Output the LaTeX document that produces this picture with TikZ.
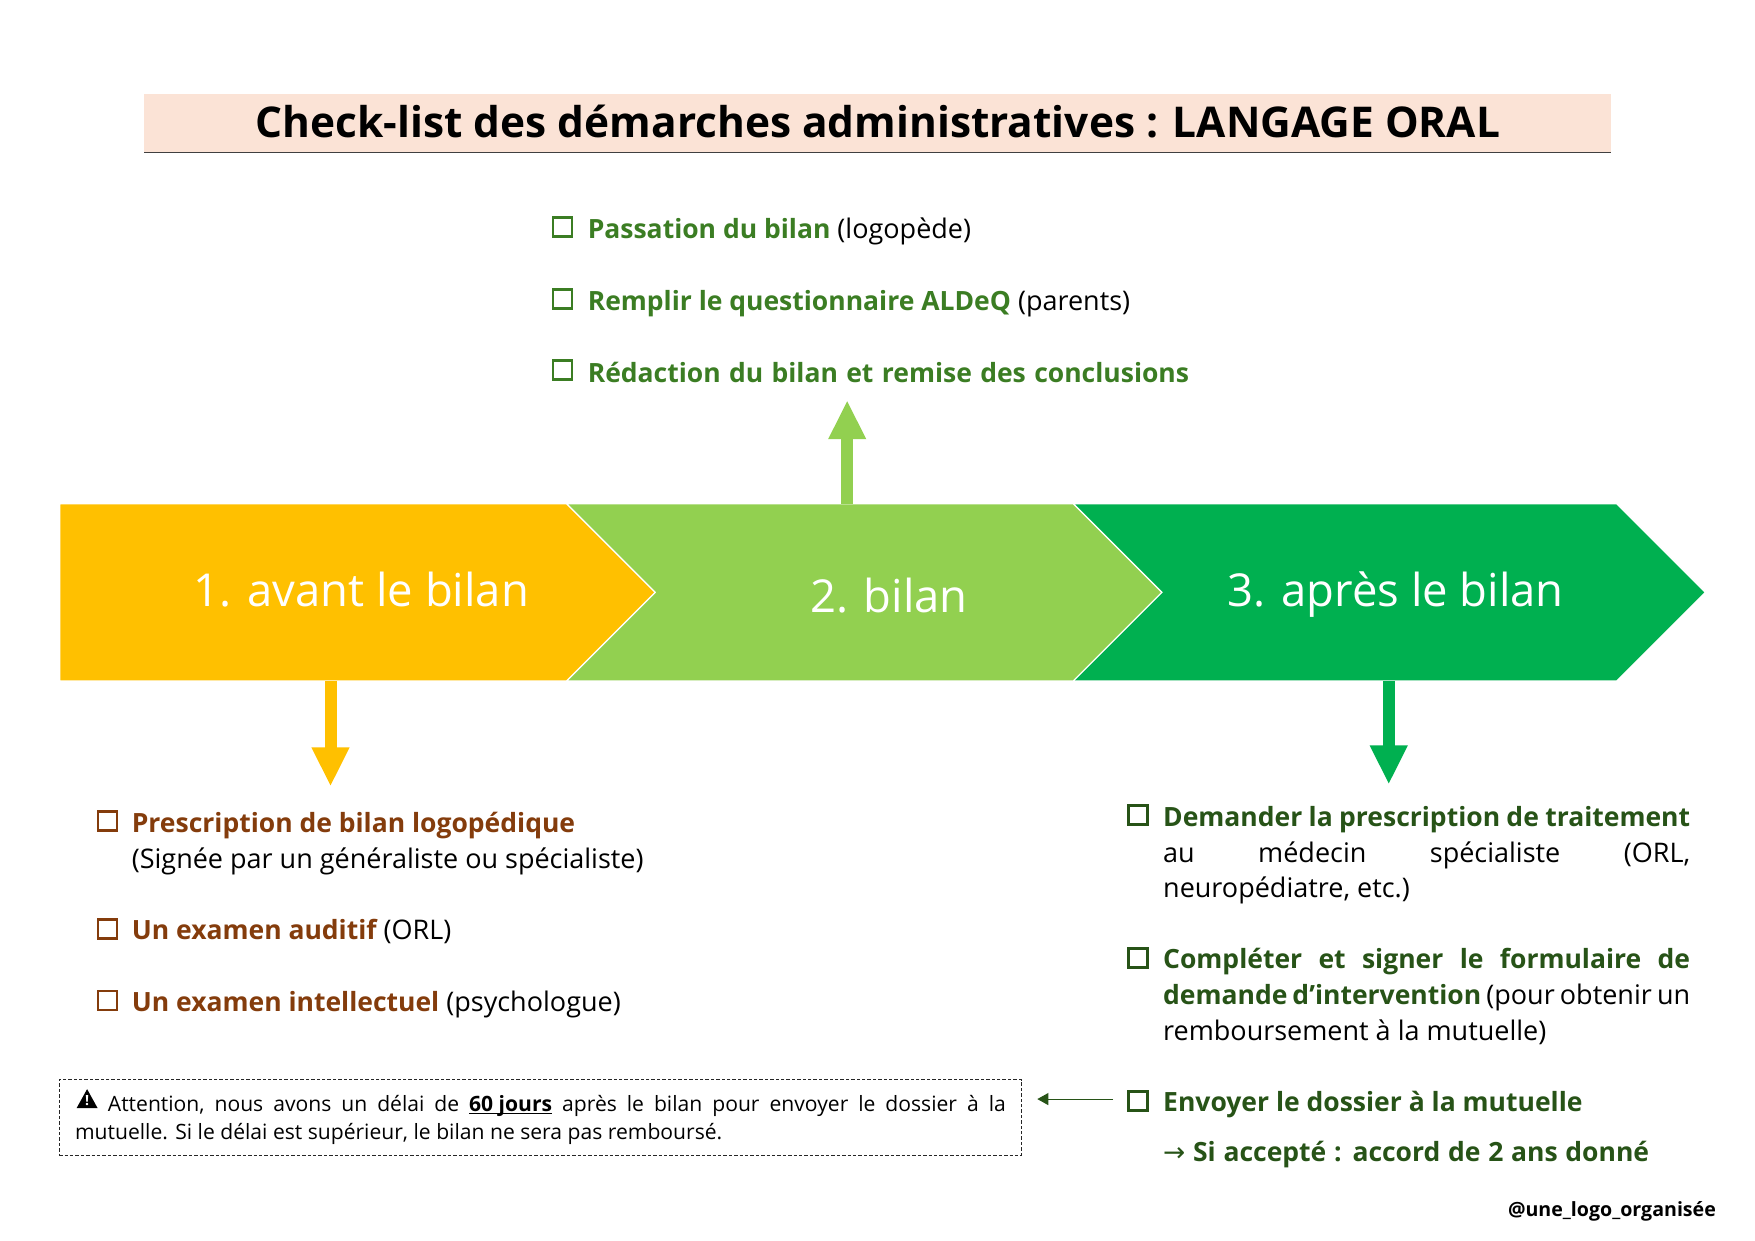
\documentclass[tikz,border=0pt]{standalone}
\usepackage{fontspec}
\setmainfont{Open Sans}
\newfontfamily\symfont{DejaVu Sans}
\usetikzlibrary{arrows.meta}
\definecolor{cyellow}{HTML}{FFC000}
\definecolor{clight}{HTML}{92D050}
\definecolor{cgreen}{HTML}{00B050}
\definecolor{ctitle}{HTML}{FBE3D6}
\definecolor{gmid}{HTML}{3B7D23}
\definecolor{gdark}{HTML}{275317}
\definecolor{cbrown}{HTML}{843C0C}
\newcommand{\bodyf}{\fontsize{13.5pt}{18pt}\selectfont}
\newcommand{\bd}{\fontsize{13.25pt}{18pt}\selectfont\bfseries}
\tikzset{
  txt/.style={anchor=base west,inner sep=0pt,font=\bodyf},
  chk/.style={draw=#1,line width=1.4pt,minimum size=9.5pt,inner sep=0pt,fill=white},
  chev/.style={fill=#1,draw=white,line width=0.6pt},
  lab/.style={anchor=base,inner sep=0pt,text=white,font=\fontsize{22.7pt}{28pt}\selectfont},
  bigarrow/.style={draw=#1,line width=6pt,-{Triangle[length=19.5pt,width=17.5pt,color=#1]}},
  warn/.style={anchor=base west,inner sep=0pt,font=\fontsize{10.55pt}{13pt}\selectfont},
}
\begin{document}
\begin{tikzpicture}[x=0.49778pt,y=-0.49778pt]
\useasboundingbox (0,0) rectangle (1762.9,1245.6);
\fill[white] (0,0) rectangle (1762.9,1245.6);
% title
\fill[ctitle] (145,94) rectangle (1618,153);
\draw[black!75,line width=0.6pt] (145,153) -- (1618,153);
\node[anchor=base,inner sep=0pt,font=\fontsize{21.2pt}{24pt}\selectfont\bfseries] (title) at (882,138) {Check-list des démarches administratives : LANGAGE ORAL};
% chevrons
\draw[chev=cgreen] (1078,506) -- (1624,506) -- (1713,595) -- (1624,684) -- (1078,684) -- (1167,595) -- cycle;
\draw[chev=clight] (569,506) -- (1078,506) -- (1167,595) -- (1078,684) -- (569,684) -- (658,595) -- cycle;
\draw[chev=cyellow] (60,506) -- (569,506) -- (658,595) -- (569,684) -- (60,684) -- cycle;
\node[lab] (l1) at (363,609) {1. avant le bilan};
\node[lab] (l2) at (893,615) {2. bilan};
\node[lab] (l3) at (1402,609) {3. après le bilan};
% arrows
\coordinate (a1s) at (332,684); \coordinate (a1e) at (332,790);
\coordinate (a2s) at (851,506); \coordinate (a2e) at (851,402);
\coordinate (a3s) at (1395,684); \coordinate (a3e) at (1395,788);
\draw[bigarrow=cyellow] (a1s) -- (a1e);
\draw[bigarrow=clight] (a2s) -- (a2e);
\draw[bigarrow=cgreen] (a3s) -- (a3e);
% middle list
\node[chk=gmid] (c1) at (565,228) {};
\node[chk=gmid] (c2) at (565,300) {};
\node[chk=gmid] (c3) at (565,372) {};
\node[txt] (t1) at (590,240) {\textcolor{gmid}{\bd Passation du bilan} (logopède)};
\node[txt] (t2) at (590,312) {\textcolor{gmid}{\bd Remplir le questionnaire ALDeQ} (parents)};
\node[txt] (t3) at (590,384) {\makebox[300.7pt][s]{\textcolor{gmid}{\bd Rédaction du bilan et remise des conclusions}}};
% left list
\node[chk=cbrown] (c4) at (108,825) {};
\node[chk=cbrown] (c5) at (108,933) {};
\node[chk=cbrown] (c6) at (108,1005) {};
\node[txt] (t4) at (132,836) {\textcolor{cbrown}{\bd Prescription de bilan logopédique}};
\node[txt] (t4b) at (132,872) {(Signée par un généraliste ou spécialiste)};
\node[txt] (t5) at (132,944) {\textcolor{cbrown}{\bd Un examen auditif} (ORL)};
\node[txt] (t6) at (132,1016) {\textcolor{cbrown}{\bd Un examen intellectuel} (psychologue)};
% right list
\node[chk=gdark] (c7) at (1143,819) {};
\node[chk=gdark] (c8) at (1143,962) {};
\node[chk=gdark] (c9) at (1143,1106) {};
\node[txt] (t7) at (1168,830) {\makebox[263.5pt][s]{\textcolor{gdark}{\bd Demander la prescription de traitement}}};
\node[txt] (t7b) at (1168,866) {\makebox[263.5pt][s]{au\hfil médecin\hfil spécialiste\hfil (ORL,}};
\node[txt] (t7c) at (1168,902) {neuropédiatre, etc.)};
\node[txt] (t8) at (1168,973) {\makebox[263.5pt][s]{\textcolor{gdark}{\bd Compléter\hfil et\hfil signer\hfil le\hfil formulaire\hfil de}}};
\node[txt] (t8b) at (1168,1009) {\makebox[263.5pt][s]{\textcolor{gdark}{\bd demande d’intervention} (pour obtenir un}};
\node[txt] (t8c) at (1168,1045) {remboursement à la mutuelle)};
\node[txt] (t9) at (1168,1116) {\textcolor{gdark}{\bd Envoyer le dossier à la mutuelle}};
\node[txt] (t9b) at (1168,1167) {\makebox[243pt][s]{\textcolor{gdark}{\bd {\symfont\mdseries →} Si accepté : accord de 2 ans donné}}};
% warning
\node[draw=black!85,dash pattern=on 1.7pt off 1pt,line width=0.45pt,minimum width=481pt,minimum height=37.8pt,anchor=north west,inner sep=0pt] (wbox) at (59,1084) {};
\fill[black] (87.5,1094) -- (98,1113) -- (77,1113) -- cycle;
\node[inner sep=0pt,text=white,font=\fontsize{7pt}{7pt}\selectfont\bfseries] (wi) at (87.5,1106) {!};
\node[warn] (w1) at (108,1116) {\makebox[449pt][s]{Attention,\hfil nous\hfil avons\hfil un\hfil délai\hfil de\hfil \textbf{\underline{\smash{60 jours}}}\hfil après\hfil le\hfil bilan\hfil pour\hfil envoyer\hfil le\hfil dossier\hfil à\hfil la}};
\node[warn] (w2) at (75,1145) {mutuelle. Si le délai est supérieur, le bilan ne sera pas remboursé.};
% small arrow
\coordinate (sm) at (1118,1104);
\coordinate (sme) at (1042,1104);
\draw[gdark,line width=0.5pt,-{Triangle[length=5.5pt,width=6pt]}] (sm) -- (sme);
\node[anchor=base east,inner sep=0pt,font=\fontsize{9.8pt}{11pt}\selectfont\bfseries] (wm) at (1724,1222) {@une\_logo\_organisée};
\end{tikzpicture}
\end{document}
